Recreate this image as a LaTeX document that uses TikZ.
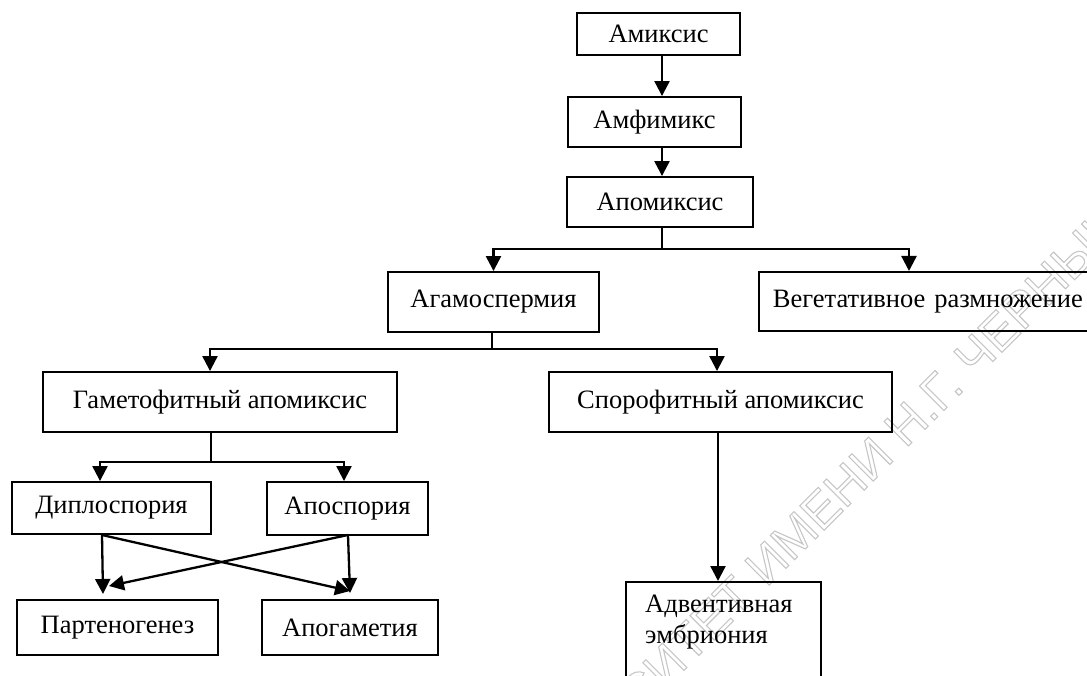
\documentclass[tikz,border=0pt]{standalone}
\usepackage{fontspec}
\setmainfont{Liberation Serif}
\newfontfamily\wmfont{Liberation Sans}
\usetikzlibrary{arrows.meta}
\begin{document}
\begin{tikzpicture}[x=1pt,y=-1pt,
  lbl/.style={font=\fontsize{26.5}{31}\selectfont},
  box/.style={draw, line width=1.9pt, inner sep=0pt, lbl},
  conn/.style={line width=2.3pt},
  arr/.style={conn, -{Triangle[width=15pt,length=15pt]}},
  wmark/.style={rotate=45, text=gray!45, font=\wmfont\fontsize{50}{50}\selectfont},
]
\useasboundingbox (0,0) rectangle (1087,676);
\clip (0,0) rectangle (1087,676);
% watermark
\node[wmark] (wm) at (885,445) {\special{pdf:literal direct 1 Tr 1.1 w}УНИВЕРСИТЕТ ИМЕНИ Н.Г. ЧЕРНЫШЕВСКОГО\special{pdf:literal direct 0 Tr}};
% boxes
\node[box, minimum width=163, minimum height=42] (amix) at (658.5,34) {Амиксис};
\node[box, minimum width=173, minimum height=50] (amfi) at (654.5,122) {Амфимикс};
\node[box, minimum width=186, minimum height=50] (apom) at (660,202) {Апомиксис};
\node[box, minimum width=211, minimum height=60] (agam) at (493.5,302) {Агамоспермия};
\node[box, anchor=north west, minimum height=59, text width=320, inner xsep=14pt, align=left] (veg) at (758,271) {Вегетативное размножение};
\node[box, minimum width=354, minimum height=60] (gam) at (220,402) {Гаметофитный апомиксис};
\node[box, minimum width=343, minimum height=60] (spor) at (720.5,402) {Спорофитный апомиксис};
\node[box, minimum width=199, minimum height=52] (dipl) at (111.5,508) {Диплоспория};
\node[box, minimum width=161, minimum height=53] (aposp) at (347.5,508.5) {Апоспория};
\node[box, minimum width=201, minimum height=55] (part) at (117.5,627.5) {Партеногенез};
\node[box, minimum width=176, minimum height=55] (apog) at (350,627.5) {Апогаметия};
\node[box, anchor=north west, minimum width=195, minimum height=130] (adv) at (625,581) {};
\node[lbl, anchor=north west, align=left, inner sep=0pt] (advt) at (645,595) {Адвентивная\\эмбриония};
% connector helper coordinates
\coordinate (ax) at (662,0);
\coordinate (b1) at (662,249);
\coordinate (vx) at (909,0);
\coordinate (b2) at (492,349);
\coordinate (gx) at (210,0);
\coordinate (sx) at (717,0);
\coordinate (b3) at (211,462);
\coordinate (dx) at (100,0);
\coordinate (px) at (344,0);
\coordinate (d0) at (102,535);
\coordinate (p0) at (348,535);
\coordinate (e1) at (103,594);
\coordinate (e2) at (350,591);
\coordinate (e3) at (350,593);
\coordinate (e4) at (109,586);
\coordinate (ux) at (718,0);
% connectors
\draw[arr] (amix.south -| ax) -- (amfi.north -| ax);
\draw[arr] (amfi.south -| ax) -- (apom.north -| ax);
\draw[conn] (apom.south -| b1) -- (b1);
\draw[arr] (b1) -| (agam.north);
\draw[arr] (b1) -| (veg.north -| vx);
\draw[conn] (agam.south -| b2) -- (b2);
\draw[arr] (b2) -| (gam.north -| gx);
\draw[arr] (b2) -| (spor.north -| sx);
\draw[conn] (gam.south -| b3) -- (b3);
\draw[arr] (b3) -| (dipl.north -| dx);
\draw[arr] (b3) -| (aposp.north -| px);
\draw[arr] (d0) -- (e1);
\draw[arr] (d0) -- (e2);
\draw[arr] (p0) -- (e3);
\draw[arr] (p0) -- (e4);
\draw[arr] (spor.south -| ux) -- (adv.north -| ux);
\end{tikzpicture}
\end{document}
